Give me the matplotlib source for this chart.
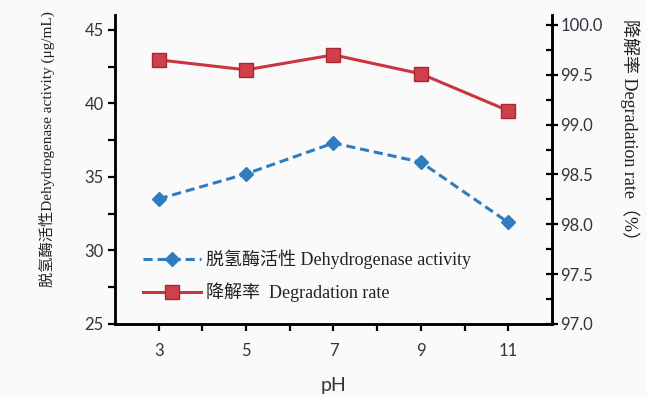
import numpy as np
import matplotlib
matplotlib.use('Agg')
import matplotlib.pyplot as plt
from matplotlib.ticker import MultipleLocator, FixedLocator
from matplotlib.font_manager import FontProperties

# data
ph = [3, 5, 7, 9, 11]
dehydrogenase = [33.5, 35.2, 37.3, 36.0, 31.9]      # left axis, ug/mL
degradation = [99.65, 99.55, 99.70, 99.51, 99.14]   # right axis, %

lbl_dh = '脱氢酶活性 Dehydrogenase activity'
lbl_dr = '降解率  Degradation rate'
ylab_left = '脱氢酶活性Dehydrogenase activity (μg/mL)'
ylab_right = '降解率 Degradation rate（%）'

serif_cjk = ['Liberation Serif', 'Noto Sans CJK SC']
tick_font = 'Lato'

blue = '#2f7cc0'
red = '#cc3440'

fig = plt.figure(figsize=(6.47, 3.97), dpi=100, facecolor='#fafafa')
ax = fig.add_axes([0.1777, 0.1839, 0.6754, 0.7783])
ax.set_facecolor('none')
ax2 = ax.twinx()

l1, = ax.plot(ph, dehydrogenase, color=blue, lw=2.2, ls=(0, (3, 1.6)),
              marker='D', ms=7.5, mfc=blue, mec=blue, zorder=3)
l2, = ax2.plot(ph, degradation, color=red, lw=2.2, ls='-',
               marker='s', ms=10, mfc='#d0404a', mec='#a8282e', mew=1, zorder=3)

ax.set_xlim(2, 12)
ax.set_ylim(25, 46.0)
ax2.set_ylim(97, 100.1)

ax.xaxis.set_major_locator(FixedLocator([3, 5, 7, 9, 11]))
ax.xaxis.set_minor_locator(FixedLocator([4, 6, 8, 10]))
ax.yaxis.set_major_locator(FixedLocator([25, 30, 35, 40, 45]))
ax.yaxis.set_minor_locator(FixedLocator([27.5, 32.5, 37.5, 42.5]))
ax2.yaxis.set_major_locator(MultipleLocator(0.5))
ax2.yaxis.set_minor_locator(MultipleLocator(0.25))
ax2.yaxis.set_major_formatter(matplotlib.ticker.FormatStrFormatter('%.1f'))

for a in (ax, ax2):
    a.spines['top'].set_visible(False)
    for s in ('left', 'right', 'bottom'):
        a.spines[s].set_linewidth(1.8)
        a.spines[s].set_color('black')

ax.tick_params(axis='both', which='both', direction='out', width=1.6,
               length=5, colors='black', labelcolor='#333340',
               labelsize=12, pad=3)
ax.tick_params(axis='x', which='major', pad=9)
ax2.tick_params(axis='y', which='major', direction='inout', width=1.6,
                length=8, colors='black', labelcolor='#333340',
                labelsize=12, pad=2)
ax2.tick_params(axis='y', which='minor', direction='in', width=1.6,
                length=4, colors='black')

for t in ax.get_xticklabels() + ax.get_yticklabels() + ax2.get_yticklabels():
    t.set_fontfamily(tick_font)

ax.set_xlabel('pH', fontsize=14, family=tick_font, color='#333340')
ax.xaxis.set_label_coords(0.5, -0.17)

ax.set_ylabel(ylab_left, fontproperties=FontProperties(family=serif_cjk, size=11),
              color='#222222')
ax.yaxis.set_label_coords(-0.137, 0.566)
ax2.set_ylabel(ylab_right, fontproperties=FontProperties(family=serif_cjk, size=13),
               color='#222222', rotation=-90, va='center')
ax2.yaxis.set_label_coords(1.178, 0.615)

leg = ax.legend([l1, l2], [lbl_dh, lbl_dr],
                prop=FontProperties(family=serif_cjk, size=13), frameon=False,
                loc='lower left', bbox_to_anchor=(0.064, 0.07),
                borderaxespad=0, borderpad=0, handlelength=3.2,
                handletextpad=0.3, labelspacing=0.75)
for t in leg.get_texts():
    t.set_color('#222222')

fig.savefig('out.png', dpi=100, facecolor=fig.get_facecolor())
